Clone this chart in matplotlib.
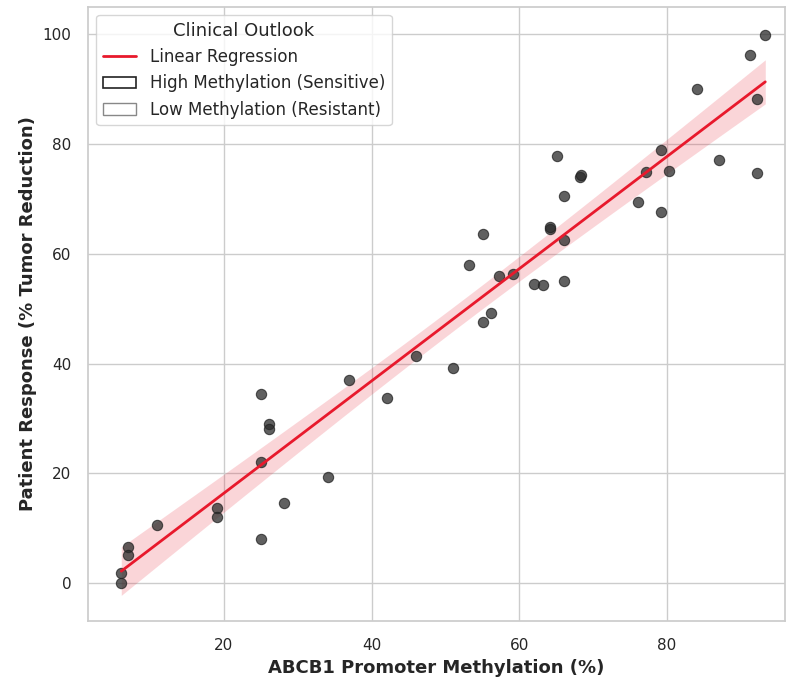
import numpy as np
import matplotlib
matplotlib.use("Agg")
import matplotlib.pyplot as plt
import seaborn as sns
from matplotlib.lines import Line2D
from matplotlib.patches import Patch

# methylation (%) and tumour reduction (%)
methylation = [
    6.1, 6.1, 7.0, 7.0, 11.0, 19.0, 19.0, 25.0, 25.0, 25.0, 26.1, 26.1, 28.1, 34.1,
    36.9, 42.1, 46.0, 51.0,
    53.2, 55.1, 55.1, 56.2, 57.2, 59.2, 62.0, 63.2, 64.1, 64.2, 65.1, 66.1, 66.1, 66.1,
    68.2, 68.3,
    76.1, 77.2, 79.2, 79.2, 80.2, 84.1, 87.1, 91.2, 92.2, 92.2, 93.3,
]
response = [
    1.9, 0.0, 6.7, 5.1, 10.7, 13.8, 12.1, 34.4, 22.0, 8.1, 29.0, 28.0, 14.6, 19.4,
    37.0, 33.7, 41.3, 39.2,
    58.0, 63.5, 47.6, 49.1, 56.0, 56.3, 54.5, 54.3, 64.5, 64.8, 77.8, 70.5, 62.4, 55.1,
    74.0, 74.3,
    69.3, 74.9, 78.9, 67.5, 75.1, 90.0, 77.0, 96.1, 88.1, 74.7, 99.8,
]

legend_labels = ["Linear Regression", "High Methylation (Sensitive)", "Low Methylation (Resistant)"]

sns.set_theme(style="whitegrid")
plt.rcParams["font.family"] = ["DejaVu Sans"]

x = np.array(methylation)
y = np.array(response)

fig = plt.figure(figsize=(7.86, 6.79), dpi=100)
ax = fig.add_axes([0.112, 0.085, 0.887, 0.905])

ax.scatter(x, y, s=55, color="#2b2b2b", alpha=0.75, edgecolor="#222222", linewidth=0.8, zorder=3)

# least squares fit with 95% confidence band
n = len(x)
slope, intercept = np.polyfit(x, y, 1)
xs = np.linspace(x.min(), x.max(), 100)
fit = intercept + slope * xs
resid = y - (intercept + slope * x)
s_err = np.sqrt(np.sum(resid ** 2) / (n - 2))
se = s_err * np.sqrt(1 / n + (xs - x.mean()) ** 2 / np.sum((x - x.mean()) ** 2))
band = 2.02 * se
ax.fill_between(xs, fit - band, fit + band, color="#e8192c", alpha=0.18, linewidth=0, zorder=2)
ax.plot(xs, fit, color="#e8192c", linewidth=2, zorder=4)

ax.set_xlim(1.6, 96.0)
ax.set_ylim(-6.9, 104.9)
ax.set_xticks([20, 40, 60, 80])
ax.set_yticks([0, 20, 40, 60, 80, 100])
ax.tick_params(labelsize=11, pad=6)
ax.set_xlabel("ABCB1 Promoter Methylation (%)", fontsize=13, fontweight="bold")
ax.set_ylabel("Patient Response (% Tumor Reduction)", fontsize=13, fontweight="bold")

handles = [
    Line2D([0], [0], color="#e8192c", linewidth=2),
    Patch(facecolor="white", edgecolor="#222222", linewidth=1.2),
    Patch(facecolor="white", edgecolor="#888888", linewidth=1.0),
]
leg = ax.legend(handles, legend_labels, title="Clinical Outlook", loc="upper left",
                fontsize=12, title_fontsize=13, frameon=True)

plt.savefig("out.png", dpi=100)
